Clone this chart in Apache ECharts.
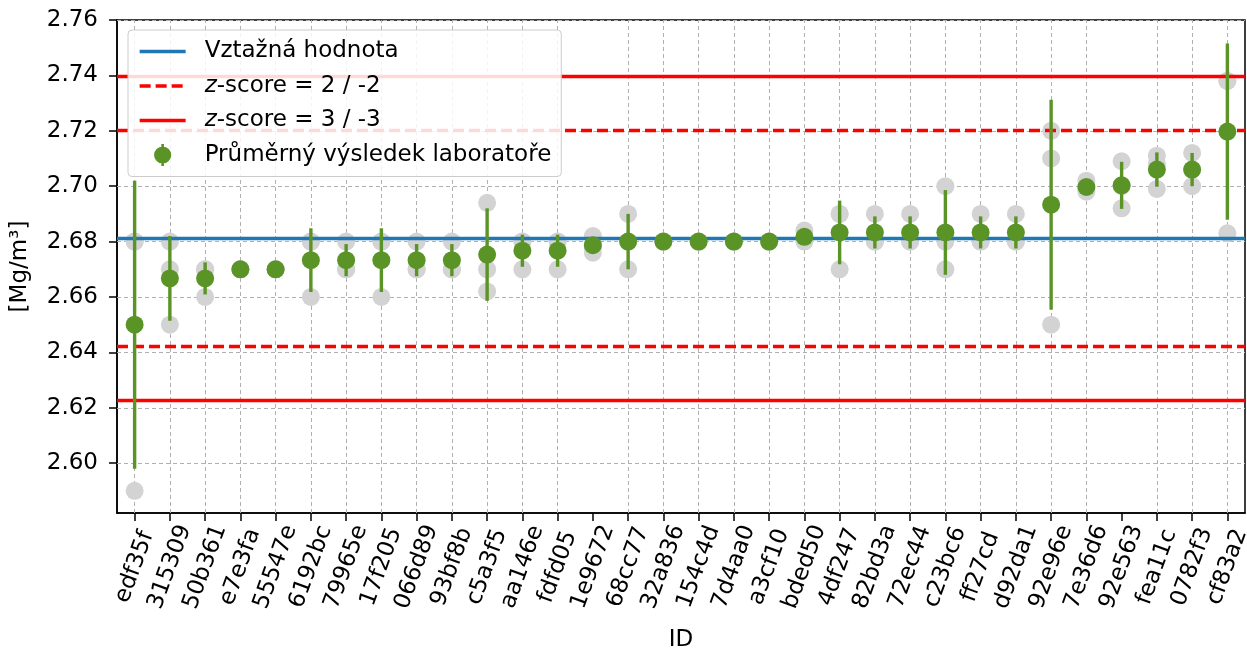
<!DOCTYPE html>
<html>
<head>
<meta charset="utf-8">
<script src="https://cdn.jsdelivr.net/npm/echarts@6/dist/echarts.min.js"></script>
<style>
  html, body { margin: 0; padding: 0; background: #ffffff; }
  #chart { width: 1247px; height: 653px; }
</style>
</head>
<body>
<div id="chart"></div>
<script>
// ---- data ----
const categories = ['edf35f','315309','50b361','e7e3fa','55547e','6192bc','79965e','17f205','066d89','93bf8b','c5a3f5','aa146e','fdfd05','1e9672','68cc77','32a836','154c4d','7d4aa0','a3cf10','bded50','4df247','82bd3a','72ec44','c23bc6','ff27cd','d92da1','92e96e','7e36d6','92e563','fea11c','0782f3','cf83a2'];

// individual laboratory results (grey points)
const rep1 = [2.680,2.680,2.670,2.670,2.670,2.680,2.680,2.680,2.680,2.680,2.694,2.680,2.680,2.682,2.690,2.680,2.680,2.680,2.680,2.684,2.690,2.690,2.690,2.700,2.690,2.690,2.720,2.702,2.709,2.711,2.712,2.738];
const rep2 = [2.680,2.670,2.670,2.670,2.670,2.680,2.670,2.680,2.670,2.670,2.670,2.680,2.680,2.678,2.680,2.680,2.680,2.680,2.680,2.681,2.690,2.680,2.680,2.680,2.680,2.680,2.710,2.699,2.700,2.708,2.706,2.738];
const rep3 = [2.590,2.650,2.660,2.670,2.670,2.660,2.670,2.660,2.670,2.670,2.662,2.670,2.670,2.676,2.670,2.680,2.680,2.680,2.680,2.680,2.670,2.680,2.680,2.670,2.680,2.680,2.650,2.698,2.692,2.699,2.700,2.683];

// laboratory mean and its standard deviation (green marker + error bar)
const means = [2.6500,2.6667,2.6667,2.6700,2.6700,2.6733,2.6733,2.6733,2.6733,2.6733,2.6753,2.6767,2.6767,2.6787,2.6800,2.6800,2.6800,2.6800,2.6800,2.6817,2.6833,2.6833,2.6833,2.6833,2.6833,2.6833,2.6933,2.6997,2.7003,2.7060,2.7060,2.7197];
const sds   = [0.0520,0.0153,0.0058,0.0000,0.0000,0.0115,0.0058,0.0115,0.0058,0.0058,0.0167,0.0058,0.0058,0.0030,0.0100,0.0000,0.0000,0.0000,0.0000,0.0021,0.0115,0.0058,0.0058,0.0153,0.0058,0.0058,0.0379,0.0021,0.0085,0.0062,0.0060,0.0318];

const refValue = 2.6813;
const z2Lines = [2.6423, 2.7203];
const z3Lines = [2.6228, 2.7398];

const yTicks = [2.60, 2.62, 2.64, 2.66, 2.68, 2.70, 2.72, 2.74, 2.76];
const yMin = 2.582, yMax = 2.76;

const names = {
  ref: 'Vztažná hodnota',
  z2: 'z-score = 2 / -2',
  z3: 'z-score = 3 / -3',
  mean: 'Průměrný výsledek laboratoře'
};

// ---- build chart ----
const FONT = 'DejaVu Sans';
const FS = 23;
const GREEN = '#5b9426';
const BLUE = '#1f77b4';
const RED = '#ff0000';
const DASH = [11, 5];
const LW = 3.3;
const chart = echarts.init(document.getElementById('chart'), null, { renderer: 'canvas' });

const greyData = [];
categories.forEach((c, i) => {
  greyData.push([i, rep1[i]]);
  greyData.push([i, rep2[i]]);
  greyData.push([i, rep3[i]]);
});
const errData = categories.map((c, i) => [i, means[i] - sds[i], means[i] + sds[i]]);
const meanData = categories.map((c, i) => [i, means[i]]);

const gridLineStyle = { color: '#b0b0b0', width: 1, type: [4, 3] };

function refLine(name, color, type, values) {
  return {
    type: 'line', name: name, data: [], z: 3, symbol: 'none',
    lineStyle: { color: color, width: LW, type: type },
    itemStyle: { color: color },
    markLine: {
      z: 3, precision: 4,
      silent: true, symbol: ['none', 'none'], label: { show: false },
      lineStyle: { color: color, width: LW, type: type }, emphasis: { disabled: true },
      data: values.map(v => ({ yAxis: v }))
    }
  };
}

const option = {
  animation: false,
  backgroundColor: '#ffffff',
  textStyle: { fontFamily: FONT },
  grid: {
    left: 117, right: 2, top: 20, bottom: 140,
    containLabel: false, outerBoundsMode: 'none',
    show: true, borderColor: '#000000', borderWidth: 1.5, backgroundColor: 'transparent'
  },
  legend: {
    orient: 'vertical',
    left: 128, top: 30,
    padding: [10, 10, 10, 10],
    itemWidth: 46, itemHeight: 22, itemGap: 11.5,
    backgroundColor: 'rgba(255,255,255,0.85)',
    borderColor: '#cccccc', borderWidth: 1, borderRadius: 4,
    selectedMode: false,
    textStyle: {
      fontFamily: FONT, fontSize: FS, color: '#000000', lineHeight: 22,
      padding: [0, 0, 0, 14],
      rich: { i: { fontFamily: FONT, fontSize: FS, fontStyle: 'italic', color: '#000000' } }
    },
    formatter: function (n) {
      if (n.indexOf('z-score') === 0) return '{i|z}-score' + n.slice(7);
      return n;
    },
    data: [
      { name: names.ref, itemStyle: { opacity: 0 }, lineStyle: { color: BLUE, width: LW, type: 'solid' } },
      { name: names.z2, itemStyle: { opacity: 0 }, lineStyle: { color: RED, width: LW, type: DASH } },
      { name: names.z3, itemStyle: { opacity: 0 }, lineStyle: { color: RED, width: LW, type: 'solid' } },
      { name: names.mean, icon: 'path://M1,11.5 a9,9 0 1,1 18,0 a9,9 0 1,1 -18,0 z M8.6,0 h2.8 v23 h-2.8 z' }
    ]
  },
  xAxis: {
    type: 'category',
    data: categories,
    boundaryGap: true,
    name: 'ID',
    nameLocation: 'middle',
    nameGap: 116,
    nameTextStyle: { fontFamily: FONT, fontSize: FS, color: '#000000' },
    axisLine: { show: true, lineStyle: { color: '#000000', width: 1.5 } },
    axisTick: { show: true, alignWithLabel: true, length: 8, lineStyle: { color: '#000000', width: 1.5 } },
    axisLabel: {
      interval: 0, rotate: 70, align: 'center', verticalAlign: 'middle', margin: 54,
      fontFamily: FONT, fontSize: FS, color: '#000000', hideOverlap: false
    },
    splitLine: { show: false }
  },
  yAxis: {
    type: 'value',
    min: yMin, max: yMax,
    name: '[Mg/m³]',
    nameLocation: 'middle',
    nameGap: 85,
    nameRotate: 90,
    nameTextStyle: { fontFamily: FONT, fontSize: FS, color: '#000000' },
    axisLine: { show: true, lineStyle: { color: '#000000', width: 1.5 } },
    axisTick: { show: true, length: 8, customValues: yTicks, lineStyle: { color: '#000000', width: 1.5 } },
    axisLabel: {
      customValues: yTicks, margin: 19,
      fontFamily: FONT, fontSize: FS, color: '#000000',
      formatter: v => Number(v).toFixed(2)
    },
    splitLine: { show: false }
  },
  series: [
    {
      // dashed grid lines at category ticks and value ticks
      type: 'scatter', data: [], z: 1, silent: true,
      markLine: {
        z: 1, precision: 4,
        silent: true, symbol: ['none', 'none'], label: { show: false },
        lineStyle: gridLineStyle, emphasis: { disabled: true },
        data: categories.map(c => ({ xAxis: c })).concat(yTicks.map(v => ({ yAxis: v })))
      }
    },
    {
      type: 'scatter', name: 'grey', data: greyData, z: 2, silent: true,
      symbol: 'circle', symbolSize: 18,
      itemStyle: { color: '#d3d3d3', opacity: 1 }
    },
    refLine(names.ref, BLUE, 'solid', [refValue]),
    refLine(names.z2, RED, DASH, z2Lines),
    refLine(names.z3, RED, 'solid', z3Lines),
    {
      type: 'custom', name: 'err', data: errData, z: 4, silent: true,
      renderItem: function (params, api) {
        const p1 = api.coord([api.value(0), api.value(1)]);
        const p2 = api.coord([api.value(0), api.value(2)]);
        return {
          type: 'line',
          shape: { x1: p1[0], y1: p1[1], x2: p2[0], y2: p2[1] },
          style: { stroke: GREEN, lineWidth: 3.4 }
        };
      }
    },
    {
      type: 'scatter', name: names.mean, data: meanData, z: 5, silent: true,
      symbol: 'circle', symbolSize: 18,
      itemStyle: { color: GREEN, opacity: 1 }
    }
  ]
};
chart.setOption(option);
</script>
</body>
</html>
